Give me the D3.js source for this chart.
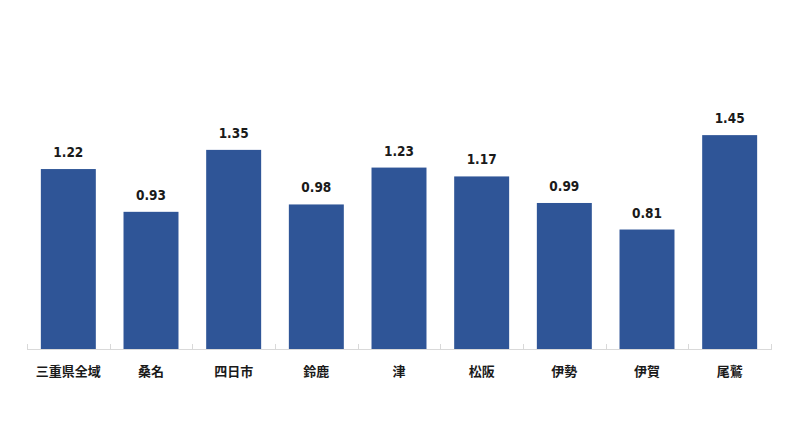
<!DOCTYPE html>
<html><head><meta charset="utf-8">
<script src="https://cdn.jsdelivr.net/npm/d3@7"></script>
<style>body{margin:0;background:#fff}</style>
</head><body>
<svg id="c" width="800" height="436"></svg>
<script>
const categories = ["三重県全域","桑名","四日市","鈴鹿","津","松阪","伊勢","伊賀","尾鷲"];
const values = [1.22,0.93,1.35,0.98,1.23,1.17,0.99,0.81,1.45];
const valueLabels = ["1.22","0.93","1.35","0.98","1.23","1.17","0.99","0.81","1.45"];

const svg = d3.select("#c");
const x = d3.scaleBand().domain(categories).range([27, 771]).paddingInner(0.335).paddingOuter(0.1675);
const y = d3.scaleLinear().domain([0, 1.6]).range([349, 113]);

svg.selectAll("rect.bar").data(values).join("rect")
  .attr("class","bar")
  .attr("x",(d,i)=>x(categories[i]))
  .attr("width",x.bandwidth())
  .attr("y",d=>y(d))
  .attr("height",d=>y(0)-y(d))
  .attr("fill","#2f5597");

svg.selectAll("text.val").data(values).join("text")
  .attr("class","val")
  .attr("x",(d,i)=>x(categories[i])+x.bandwidth()/2)
  .attr("y",d=>y(d)-12)
  .attr("text-anchor","middle")
  .attr("font-family","'DejaVu Sans Condensed', 'DejaVu Sans', Verdana, sans-serif")
  .attr("font-weight","bold")
  .attr("font-size","13.5px")
  .attr("fill","#1a1a1a")
  .text((d,i)=>valueLabels[i]);

// axis
const axisG = svg.append("g");
axisG.append("line").attr("x1",27).attr("x2",771).attr("y1",349.5).attr("y2",349.5)
  .attr("stroke","#d9d9d9").attr("stroke-width",1);
const bounds = d3.range(categories.length+1).map(i=>27 + i*(744/categories.length));
axisG.selectAll("line.tick").data(bounds).join("line").attr("class","tick")
  .attr("x1",d=>Math.round(d)+0.5).attr("x2",d=>Math.round(d)+0.5)
  .attr("y1",344).attr("y2",350).attr("stroke","#d9d9d9");

svg.selectAll("text.cat").data(categories).join("text")
  .attr("class","cat")
  .attr("x",d=>x(d)+x.bandwidth()/2)
  .attr("y",376)
  .attr("text-anchor","middle")
  .attr("font-family","'Noto Sans CJK JP', sans-serif")
  .attr("font-weight","bold")
  .attr("font-size","13px")
  .attr("fill","#1a1a1a")
  .text(d=>d);
</script>
</body></html>
